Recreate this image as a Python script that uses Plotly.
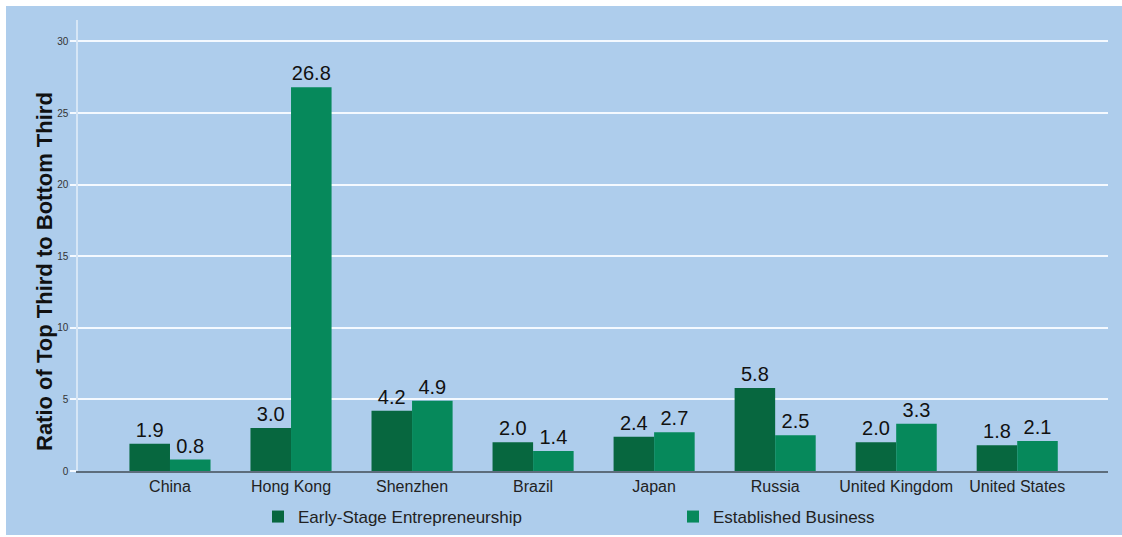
import plotly.graph_objects as go

# Ratio of top third to bottom third, by region and business stage
regions = ["China", "Hong Kong", "Shenzhen", "Brazil", "Japan", "Russia",
           "United Kingdom", "United States"]
early_stage = [1.9, 3.0, 4.2, 2.0, 2.4, 5.8, 2.0, 1.8]
established = [0.8, 26.8, 4.9, 1.4, 2.7, 2.5, 3.3, 2.1]

y_ticks = [0, 5, 10, 15, 20, 25, 30]

BG = "#aecdec"
DARK_GREEN = "#07673f"
LIGHT_GREEN = "#06895b"
FONT = "Liberation Sans, Arial, sans-serif"

W, H = 1122, 537
L, R, T, B = 78, 14, 20, 66
pw, ph = W - L - R, H - T - B


def px_x(p):
    return (p - L) / pw


def px_y(p):
    return (H - B - p) / ph


fig = go.Figure()
fig.add_trace(go.Bar(
    x=regions, y=early_stage, name="Early-Stage Entrepreneurship",
    marker=dict(color=DARK_GREEN, line=dict(width=0)),
    text=[f"{v:.1f}" for v in early_stage], textposition="outside",
    textfont=dict(size=20, color="#111111", family=FONT),
    cliponaxis=False,
))
fig.add_trace(go.Bar(
    x=regions, y=established, name="Established Business",
    marker=dict(color=LIGHT_GREEN, line=dict(width=0)),
    text=[f"{v:.1f}" for v in established], textposition="outside",
    textfont=dict(size=20, color="#111111", family=FONT),
    cliponaxis=False,
))

# light-blue panel with a thin white border on the top and left
fig.add_shape(
    type="rect", xref="paper", yref="paper", layer="below",
    x0=px_x(6), x1=px_x(W + 5),
    y0=px_y(535), y1=px_y(6),
    fillcolor=BG, line=dict(width=0),
)

# vertical axis title
fig.add_annotation(
    text="<b>Ratio of Top Third to Bottom Third</b>",
    xref="paper", yref="paper", x=px_x(44), y=px_y(272),
    xanchor="center", yanchor="middle", textangle=-90, showarrow=False,
    font=dict(size=22, color="#111111", family=FONT),
)

fig.update_layout(
    width=W, height=H,
    margin=dict(l=L, r=R, t=T, b=B, pad=0, autoexpand=False),
    paper_bgcolor="white",
    plot_bgcolor="rgba(0,0,0,0)",
    barmode="group",
    bargap=0.33,
    bargroupgap=0,
    font=dict(family=FONT, color="#222222"),
    showlegend=True,
    legend=dict(
        orientation="h", x=px_x(258), xanchor="left",
        y=px_y(499), yanchor="top",
        font=dict(size=17, color="#222222", family=FONT),
        entrywidth=370, entrywidthmode="pixels",
        bgcolor="rgba(0,0,0,0)",
    ),
    xaxis=dict(
        type="category", range=[-0.76, 7.75],
        showline=True, linecolor="#5d6d7c", linewidth=1.5,
        showgrid=False, ticks="", zeroline=False,
        tickfont=dict(size=16, color="#222222", family=FONT),
    ),
    yaxis=dict(
        range=[0, 31.5], tickvals=y_ticks,
        showline=True, linecolor="#d6e6f6", linewidth=1.5,
        showgrid=True, gridcolor="#f4f9ff", gridwidth=1.5,
        zeroline=False,
        ticks="outside", ticklen=6, tickcolor="#f4f9ff", tickwidth=1.5,
        tickfont=dict(size=10, color="#333333", family=FONT),
    ),
)

fig.write_html("out.html")
